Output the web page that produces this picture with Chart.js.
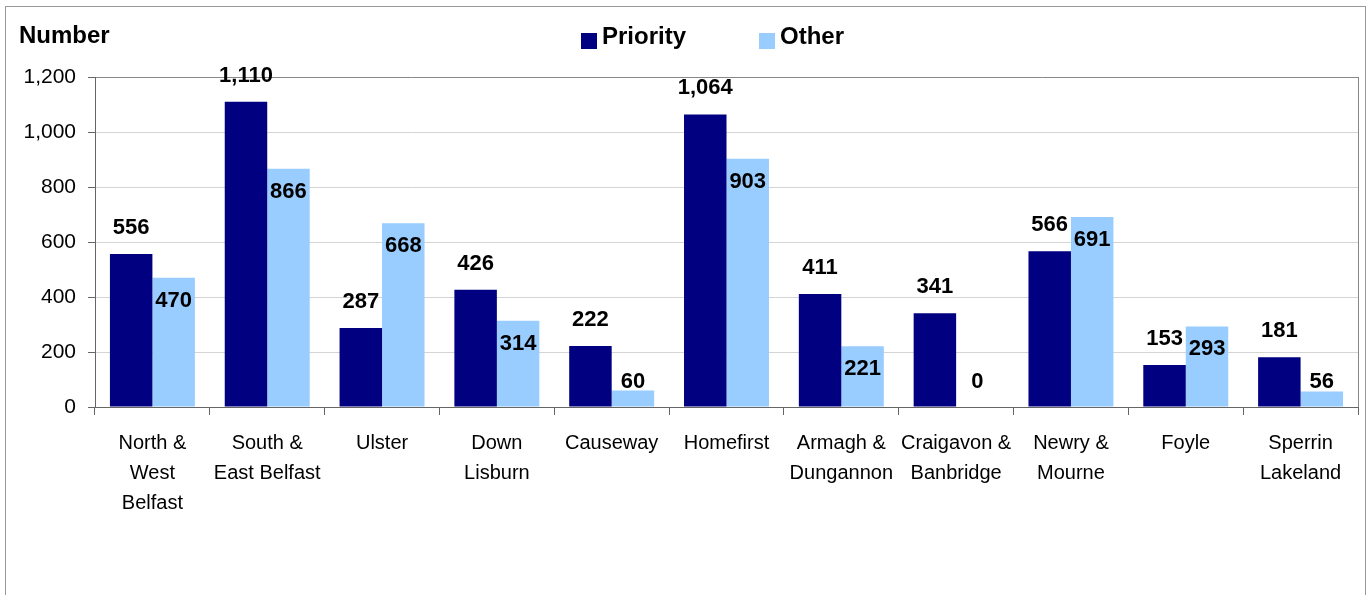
<!DOCTYPE html>
<html>
<head>
<meta charset="utf-8">
<script src="https://cdn.jsdelivr.net/npm/chart.js@4/dist/chart.umd.min.js"></script>
<style>
    body { margin: 0; background: #fff; }
    #wrap { width: 1369px; height: 595px; }
</style>
</head>
<body>
<div id="wrap"><canvas id="trust_chart" width="1369" height="595"></canvas></div>
<script>
const categories = [
    ['North &', 'West', 'Belfast'],
    ['South &', 'East Belfast'],
    ['Ulster'],
    ['Down', 'Lisburn'],
    ['Causeway'],
    ['Homefirst'],
    ['Armagh &', 'Dungannon'],
    ['Craigavon &', 'Banbridge'],
    ['Newry &', 'Mourne'],
    ['Foyle'],
    ['Sperrin', 'Lakeland']
];
const priorityValues = [556, 1110, 287, 426, 222, 1064, 411, 341, 566, 153, 181];
const otherValues = [470, 866, 668, 314, 60, 903, 221, 0, 691, 293, 56];
const seriesNames = ['Priority', 'Other'];
const yTicks = [0, 200, 400, 600, 800, 1000, 1200];

const FONT = "'Liberation Sans', Arial, sans-serif";

// outer frame, plot border, title and legend
const decorations = {
    id: 'decorations',
    beforeDraw(chart) {
        const c = chart.ctx;
        c.save();
        c.fillStyle = '#fff';
        c.fillRect(0, 0, chart.width, chart.height);
        c.strokeStyle = '#999';
        c.lineWidth = 1;
        c.strokeRect(5.5, 6.5, 1360, 600);
        c.restore();
    },
    afterDraw(chart) {
        const c = chart.ctx;
        const area = chart.chartArea;
        c.save();
        c.strokeStyle = '#888';
        c.lineWidth = 1;
        c.beginPath();
        c.moveTo(Math.round(area.right) + 0.5, area.top);
        c.lineTo(Math.round(area.right) + 0.5, area.bottom);
        c.stroke();

        c.fillStyle = '#000';
        c.font = 'bold 24px ' + FONT;
        c.textBaseline = 'middle';
        c.textAlign = 'left';
        c.fillText('Number', 19, 36);

        const legendX = [581, 759];
        chart.data.datasets.forEach(function (ds, i) {
            c.fillStyle = ds.backgroundColor;
            c.fillRect(legendX[i], 33, 16, 16);
            c.fillStyle = '#000';
            c.fillText(ds.label, legendX[i] + 21, 37);
        });
        c.restore();
    }
};

// value labels: Priority above the bar, Other inside the bar top
const valueLabels = {
    id: 'valueLabels',
    afterDatasetsDraw(chart) {
        const c = chart.ctx;
        const base = chart.scales.y.getPixelForValue(0);
        c.save();
        c.font = 'bold 22px ' + FONT;
        c.fillStyle = '#000';
        c.textAlign = 'center';
        c.textBaseline = 'middle';
        chart.data.datasets.forEach(function (ds, i) {
            chart.getDatasetMeta(i).data.forEach(function (bar, j) {
                let y;
                if (i === 0) {
                    y = bar.y - 26;
                } else {
                    y = Math.min(bar.y + 23, base - 25);
                }
                c.fillText(ds.data[j].toLocaleString('en-US'), bar.x, y);
            });
        });
        c.restore();
    }
};

document.addEventListener('DOMContentLoaded', function () {
    const ctx = document.getElementById('trust_chart').getContext('2d');

    new Chart(ctx, {
        type: 'bar',
        data: {
            labels: categories,
            datasets: [{
                label: seriesNames[0],
                data: priorityValues,
                backgroundColor: '#000080'
            }, {
                label: seriesNames[1],
                data: otherValues,
                backgroundColor: '#99CCFF'
            }]
        },
        options: {
            responsive: false,
            animation: false,
            categoryPercentage: 0.74,
            barPercentage: 1.0,
            layout: {
                padding: { left: 0, top: 77, right: 11, bottom: 0 }
            },
            plugins: {
                legend: { display: false },
                title: { display: false },
                tooltip: { enabled: false }
            },
            scales: {
                x: {
                    afterFit: function (scale) { scale.height = 188; },
                    grid: {
                        offset: true,
                        drawOnChartArea: false,
                        tickLength: 8,
                        tickColor: '#666'
                    },
                    border: { color: '#666' },
                    ticks: {
                        autoSkip: false,
                        maxRotation: 0,
                        padding: 13,
                        color: '#000',
                        font: { family: FONT, size: 20, lineHeight: 1.5 }
                    }
                },
                y: {
                    min: 0,
                    max: 1200,
                    afterFit: function (scale) { scale.width = 95; },
                    afterBuildTicks: function (scale) {
                        scale.ticks = yTicks.map(function (v) { return { value: v }; });
                    },
                    grid: {
                        color: function (c) {
                            return c.tick && c.tick.value === 1200 ? '#888' : '#d4d4d4';
                        },
                        tickLength: 7,
                        tickColor: '#666'
                    },
                    border: { color: '#666' },
                    ticks: {
                        padding: 12,
                        color: '#000',
                        font: { family: FONT, size: 21 },
                        callback: function (v) { return v.toLocaleString('en-US'); }
                    }
                }
            }
        },
        plugins: [decorations, valueLabels]
    });
});
</script>
</body>
</html>
